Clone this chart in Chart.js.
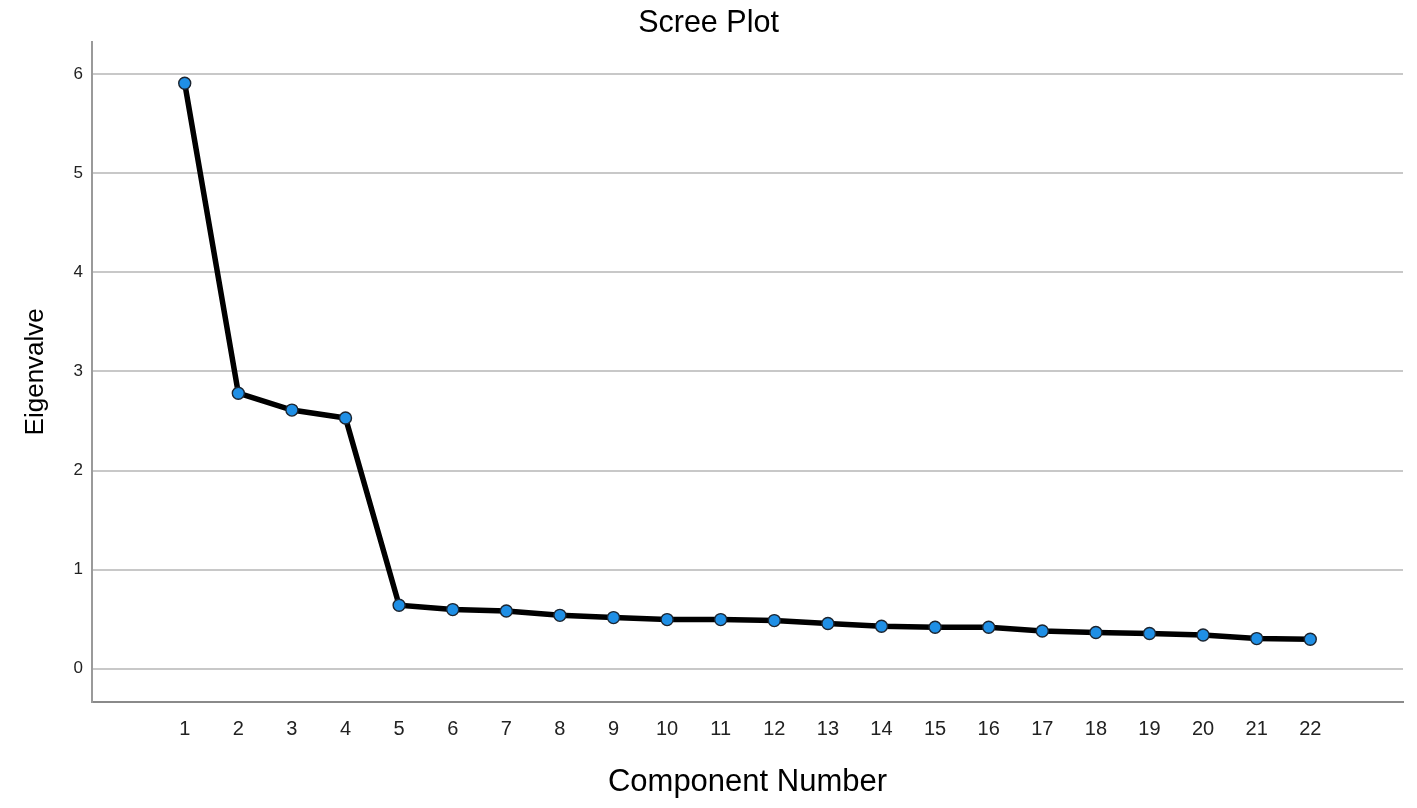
<!DOCTYPE html>
<html>
<head>
<meta charset="utf-8">
<script src="https://cdn.jsdelivr.net/npm/chart.js@4/dist/chart.umd.min.js"></script>
<style>
  html, body { margin: 0; padding: 0; background: #fff; }
  #wrap { width: 1417px; height: 808px; }
</style>
</head>
<body>
<div id="wrap"><canvas id="scree"></canvas></div>
<script>
const components = [1, 2, 3, 4, 5, 6, 7, 8, 9, 10, 11, 12, 13, 14, 15, 16, 17, 18, 19, 20, 21, 22];
const eigenvalues = [5.91, 2.78, 2.61, 2.53, 0.64, 0.596, 0.582, 0.538, 0.515, 0.495, 0.495, 0.485,
  0.455, 0.427, 0.418, 0.417, 0.38, 0.364, 0.354, 0.34, 0.303, 0.296];
const yTicks = [0, 1, 2, 3, 4, 5, 6];

const FONT = "'Liberation Sans', Arial, sans-serif";

const points = components.map((c, i) => ({ x: c, y: eigenvalues[i] }));

new Chart(document.getElementById("scree"), {
  type: "line",
  data: {
    datasets: [
      {
        data: points,
        borderColor: "#000",
        borderWidth: 5.5,
        pointRadius: 6,
        pointBackgroundColor: "#1f8fe5",
        pointBorderColor: "#1c2530",
        pointBorderWidth: 1.4,
        tension: 0,
      },
    ],
  },
  options: {
    responsive: true,
    maintainAspectRatio: false,
    animation: false,
    layout: { padding: 0 },
    plugins: {
      legend: { display: false },
      tooltip: { enabled: false },
      title: {
        display: true,
        text: "Scree Plot",
        color: "#000",
        font: { family: FONT, size: 30.5, weight: "normal" },
        padding: { top: 5, bottom: 0 },
      },
    },
    scales: {
      x: {
        type: "linear",
        min: -0.73,
        max: 23.73,
        afterBuildTicks: (s) => {
          s.ticks = components.map((v) => ({ value: v }));
        },
        afterFit: (s) => {
          s.height = 106;
        },
        grid: { display: false, drawTicks: false },
        border: { display: true, color: "#8a8a8a", width: 2 },
        ticks: {
          color: "#222",
          padding: 15,
          maxRotation: 0,
          autoSkip: false,
          font: { family: FONT, size: 20 },
        },
        title: {
          display: true,
          text: "Component Number",
          color: "#000",
          font: { family: FONT, size: 31 },
          padding: { top: 7, bottom: 7 },
        },
      },
      y: {
        min: -0.337,
        max: 6.33,
        afterBuildTicks: (s) => {
          s.ticks = yTicks.map((v) => ({ value: v }));
        },
        afterFit: (s) => {
          s.width = 92;
        },
        grid: { color: "#c8c8c8", lineWidth: 2, drawTicks: false },
        border: { display: true, color: "#9a9a9a", width: 2 },
        ticks: {
          color: "#222",
          padding: 9,
          font: { family: FONT, size: 17 },
        },
        title: {
          display: true,
          text: "Eigenvalve",
          color: "#000",
          font: { family: FONT, size: 26 },
          padding: { top: 20, bottom: 20 },
        },
      },
      // empty strip on the right so the grid stops short of the edge
      gap: {
        type: "linear",
        position: "right",
        afterFit: (s) => {
          s.width = 14;
        },
        grid: { display: false, drawTicks: false },
        border: { display: false },
        ticks: { display: false },
      },
    },
  },
});
</script>
</body>
</html>
